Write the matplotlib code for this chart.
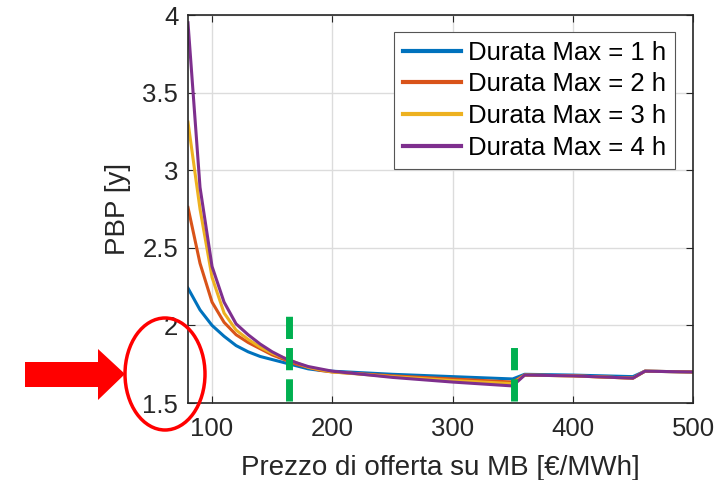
import matplotlib
matplotlib.use("Agg")
import matplotlib.pyplot as plt
from matplotlib.patches import Ellipse, Polygon

plt.rcParams['font.family'] = ['Liberation Sans', 'DejaVu Sans']

# prezzo di offerta [€/MWh]
prezzo = [80, 90, 100, 110, 120, 130, 140, 150, 160, 170, 180, 190, 200,
          250, 300, 350, 360, 400, 450, 460, 500]

# PBP [y] per durata massima
pbp_1h = [2.24, 2.10, 2.00, 1.93, 1.87, 1.83, 1.80, 1.78, 1.76, 1.74, 1.72, 1.71, 1.705,
          1.685, 1.67, 1.655, 1.685, 1.68, 1.67, 1.705, 1.70]
pbp_2h = [2.76, 2.40, 2.15, 2.02, 1.94, 1.89, 1.85, 1.81, 1.78, 1.75, 1.73, 1.71, 1.70,
          1.675, 1.655, 1.635, 1.68, 1.675, 1.66, 1.705, 1.70]
pbp_3h = [3.31, 2.75, 2.31, 2.08, 1.97, 1.91, 1.86, 1.82, 1.79, 1.76, 1.73, 1.715, 1.70,
          1.67, 1.645, 1.625, 1.68, 1.675, 1.66, 1.705, 1.70]
pbp_4h = [3.95, 2.89, 2.38, 2.15, 2.01, 1.94, 1.88, 1.83, 1.79, 1.76, 1.735, 1.72, 1.705,
          1.665, 1.635, 1.61, 1.68, 1.675, 1.66, 1.705, 1.70]

serie = [pbp_1h, pbp_2h, pbp_3h, pbp_4h]
etichette = ['Durata Max = 1 h', 'Durata Max = 2 h', 'Durata Max = 3 h', 'Durata Max = 4 h']
colori = ['#0072BD', '#D95319', '#EDB120', '#7E2F8E']

# prezzi evidenziati (linee verdi tratteggiate)
prezzi_verdi = [164, 351]
verdi_top = [2.07, 1.88]

fig = plt.figure(figsize=(7.25, 4.8), dpi=100)
ax = fig.add_axes([0.2593, 0.1604, 0.6966, 0.8083])

for y, lab, c in zip(serie, etichette, colori):
    ax.plot(prezzo, y, color=c, lw=2.2, label=lab)

for xv, yt in zip(prezzi_verdi, verdi_top):
    ax.plot([xv, xv], [1.51, yt], color='#00B050', lw=5, dashes=(3.2, 1.3), zorder=5)

ax.set_xlim(80, 500)
ax.set_ylim(1.5, 4)
ax.set_xticks([100, 200, 300, 400, 500])
ax.set_yticks([1.5, 2, 2.5, 3, 3.5, 4])
ax.set_yticklabels(['1.5', '2', '2.5', '3', '3.5', '4'])
ax.grid(True, color='#dcdcdc', lw=1)
ax.set_axisbelow(True)
ax.tick_params(direction='in', top=True, right=True, labelsize=18.5, colors='#262626', length=5)
ax.tick_params(axis='x', pad=10)
ax.tick_params(axis='y', pad=7)
for s in ax.spines.values():
    s.set_color('#262626')
    s.set_linewidth(1.2)
ax.set_xlabel('Prezzo di offerta su MB [€/MWh]', fontsize=20, color='#262626', labelpad=10)
ax.set_ylabel('PBP [y]', fontsize=20, color='#262626', labelpad=8)

leg = ax.legend(loc='upper right', fontsize=18.5, handlelength=2.25, handletextpad=0.27,
                borderpad=0.35, labelspacing=0.3, fancybox=False, framealpha=1,
                edgecolor='#555555', bbox_to_anchor=(0.99, 0.99))
leg.get_frame().set_linewidth(0.8)
for h in leg.get_lines():
    h.set_linewidth(3)

# annotazioni rosse (coordinate in pixel della figura)
W, H = 725, 480
def fx(px):
    return px / W
def fy(py):
    return 1 - py / H

ell = Ellipse((fx(165), fy(374)), 80 / W, 112 / H, transform=fig.transFigure,
              fill=False, edgecolor='#ff0000', lw=2.5)
fig.patches.append(ell)

freccia = [(25, 362), (98, 362), (98, 349), (125, 374), (98, 400), (98, 387), (25, 387)]
arr = Polygon([(fx(a), fy(b)) for a, b in freccia], closed=True, transform=fig.transFigure,
              facecolor='#ff0000', edgecolor='none')
fig.patches.append(arr)

fig.savefig('out.png', dpi=100)
